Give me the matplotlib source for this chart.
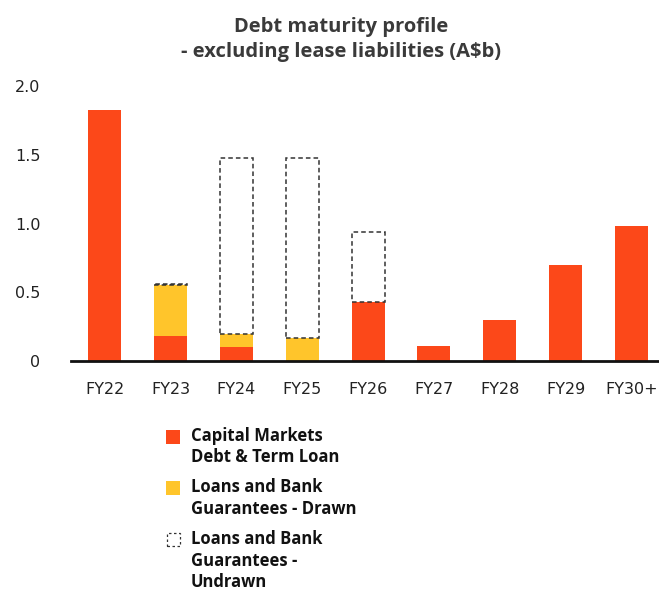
import numpy as np
import matplotlib.pyplot as plt
from matplotlib.patches import Rectangle

categories = ['FY22', 'FY23', 'FY24', 'FY25', 'FY26', 'FY27', 'FY28', 'FY29', 'FY30+']
capital_markets = [1.83, 0.18, 0.10, 0.0, 0.43, 0.11, 0.30, 0.70, 0.98]
drawn = [0.0, 0.37, 0.10, 0.17, 0.0, 0.0, 0.0, 0.0, 0.0]
undrawn = [0.0, 0.01, 1.28, 1.31, 0.51, 0.0, 0.0, 0.0, 0.0]
yticks = [0, 0.5, 1.0, 1.5, 2.0]
yticklabels = ['0', '0.5', '1.0', '1.5', '2.0']

red = '#FC4819'
yellow = '#FFC52B'
font = ['Open Sans', 'DejaVu Sans']
tick_font = ['DejaVu Sans']
plt.rcParams['font.family'] = font

fig = plt.figure(figsize=(6.59, 5.9), dpi=100)
ax = fig.add_axes([0.108, 0.388, 0.892, 0.466])

x = np.arange(len(categories))
cap = np.array(capital_markets)
dr = np.array(drawn)
und = np.array(undrawn)

ax.bar(x, cap, width=0.5, color=red, zorder=2)
ax.bar(x, dr, width=0.5, bottom=cap, color=yellow, zorder=2)
for i in range(len(x)):
    if und[i] > 0:
        ax.bar(x[i], und[i], width=0.5, bottom=cap[i] + dr[i], facecolor='none',
               edgecolor='#333333', linestyle=(0, (3, 2)), linewidth=1.1, zorder=3)

ax.set_xlim(-0.51, 8.42)
ax.set_ylim(0, 2.0)
ax.set_xticks(x)
ax.set_xticklabels(categories, fontsize=11.5, color='#222222', family=tick_font)
ax.set_yticks(yticks)
ax.set_yticklabels(yticklabels, fontsize=11.5, color='#222222', family=tick_font)
ax.tick_params(axis='x', length=0, pad=15)
ax.tick_params(axis='y', length=0, pad=22)
for s in ['top', 'right', 'left']:
    ax.spines[s].set_visible(False)
ax.spines['bottom'].set_linewidth(2)
ax.spines['bottom'].set_color('#111111')

fig.text(0.518, 0.955, 'Debt maturity profile', ha='center', va='center',
         fontsize=14.5, fontweight='bold', color='#3a3a3a')
fig.text(0.518, 0.912, '- excluding lease liabilities (A$b)', ha='center', va='center',
         fontsize=14.5, fontweight='bold', color='#3a3a3a')

# legend
legend_items = [
    ('Capital Markets\nDebt & Term Loan', red, 'solid'),
    ('Loans and Bank\nGuarantees - Drawn', yellow, 'solid'),
    ('Loans and Bank\nGuarantees -\nUndrawn', 'none', 'dashed'),
]
tops = [437, 488, 540]
for (label, color, style), ty in zip(legend_items, tops):
    yf = 1 - ty / 590
    if style == 'solid':
        fig.patches.append(Rectangle((166 / 659, yf - 7 / 590), 14 / 659, 14 / 590,
                                     transform=fig.transFigure, facecolor=color, edgecolor='none'))
    else:
        fig.patches.append(Rectangle((167 / 659, yf - 6 / 590), 13 / 659, 13 / 590,
                                     transform=fig.transFigure, facecolor='none',
                                     edgecolor='#333333', linestyle=(0, (2, 2)), linewidth=0.9))
    fig.text(191 / 659, yf + 10 / 590, label, ha='left', va='top', fontsize=12,
             fontweight='bold', color='#111111', linespacing=1.25)

fig.savefig('out.png', dpi=100)
